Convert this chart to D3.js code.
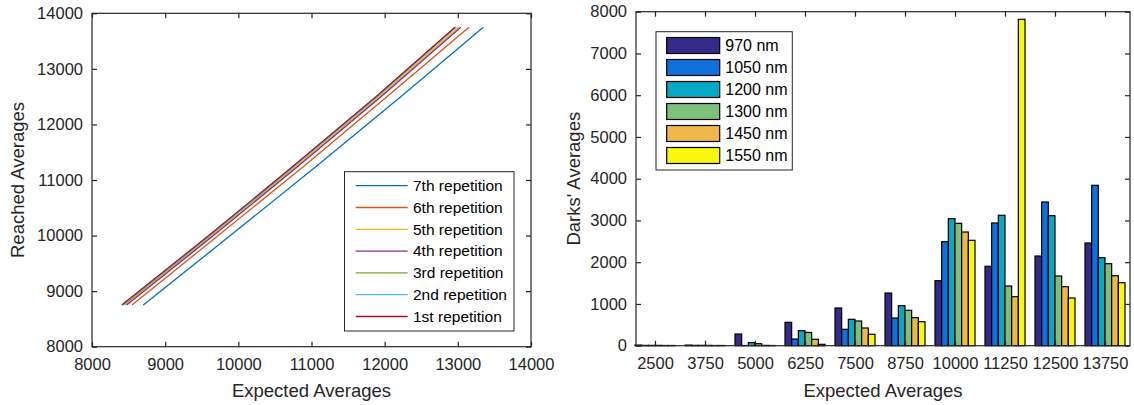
<!DOCTYPE html>
<html>
<head>
<meta charset="utf-8">
<script src="https://cdn.jsdelivr.net/npm/d3@7"></script>
<style>
  body { margin: 0; background: #fff; }
  svg { display: block; font-family: "Liberation Sans", Arial, Helvetica, sans-serif; }
</style>
</head>
<body>
<svg id="chart" width="1134" height="405"></svg>
<script>
// ---- left plot data: reached averages vs expected averages, 7 repetitions
var reachedLevels = [8750, 10000, 11250, 12500, 13750];
var repNames = ["7th repetition", "6th repetition", "5th repetition", "4th repetition",
                "3rd repetition", "2nd repetition", "1st repetition"];
var rep7 = [8701, 9890, 11071, 12220, 13348];
var rep6 = [8547, 9725, 10900, 12030, 13152];
var rep5 = [8450, 9640, 10800, 11930, 13010];
var rep4 = [8474, 9660, 10820, 11950, 13040];
var rep3 = [8428, 9615, 10770, 11900, 12975];
var rep2 = [8415, 9605, 10760, 11890, 12965];
var rep1 = [8406, 9595, 10751, 11880, 12961];
var repColors = ["#0072BD", "#D95319", "#EDB120", "#7E2F8E", "#77AC30", "#4DBEEE", "#A2142F"];
var leftTicks = [8000, 9000, 10000, 11000, 12000, 13000, 14000];

// ---- right plot data: darks' averages per wavelength
var categories = ["2500", "3750", "5000", "6250", "7500", "8750", "10000", "11250", "12500", "13750"];
var wavelengths = ["970 nm", "1050 nm", "1200 nm", "1300 nm", "1450 nm", "1550 nm"];
var d970  = [15, 15, 280, 560, 903, 1262, 1557, 1902, 2148, 2460];
var d1050 = [8, 8, 5, 160, 393, 663, 2491, 2939, 3442, 3842];
var d1200 = [8, 8, 75, 360, 632, 958, 3042, 3123, 3114, 2108];
var d1300 = [8, 8, 48, 318, 592, 848, 2931, 1430, 1669, 1964];
var d1450 = [5, 5, 8, 153, 424, 671, 2723, 1174, 1413, 1677];
var d1550 = [5, 5, 5, 33, 273, 575, 2524, 7818, 1142, 1509];
var barColors = ["#352A87", "#0F6FDB", "#07A8C3", "#7DBF7B", "#F0B74C", "#F8F80F"];
var rightTicks = [0, 1000, 2000, 3000, 4000, 5000, 6000, 7000, 8000];

var svg = d3.select("#chart");
var ink = "#262626";
var tickFont = "16.5px";

function frame(g, x0, x1, y0, y1) {
    g.append("rect")
        .attr("x", x0).attr("y", y0)
        .attr("width", x1 - x0).attr("height", y1 - y0)
        .attr("fill", "none").attr("stroke", ink).attr("stroke-width", 1.2);
}

// ================= LEFT PLOT =================
var L = {x0: 92, x1: 531, y0: 13.3, y1: 346.7};
var lx = d3.scaleLinear().domain([8000, 14000]).range([L.x0, L.x1]);
var ly = d3.scaleLinear().domain([8000, 14000]).range([L.y1, L.y0]);
var left = svg.append("g");

var reps = [rep7, rep6, rep5, rep4, rep3, rep2, rep1];
var line = d3.line().x(function(d){ return lx(d[0]); }).y(function(d){ return ly(d[1]); });
// draw 7th first, 1st last (on top)
reps.forEach(function(r, i){
    left.append("path")
        .datum(r.map(function(v, k){ return [v, reachedLevels[k]]; }))
        .attr("d", line)
        .attr("fill", "none")
        .attr("stroke", repColors[i])
        .attr("stroke-width", 1.3);
});

frame(left, L.x0, L.x1, L.y0, L.y1);

left.append("g").attr("transform", "translate(0," + L.y1 + ")")
    .call(d3.axisBottom(lx).tickValues(leftTicks).tickSize(-5).tickPadding(12).tickFormat(d3.format("d")));
left.append("g").attr("transform", "translate(0," + L.y0 + ")")
    .call(d3.axisTop(lx).tickValues(leftTicks).tickSize(-5).tickFormat(""));
left.append("g").attr("transform", "translate(" + L.x0 + ",0)")
    .call(d3.axisLeft(ly).tickValues(leftTicks).tickSize(-5).tickPadding(9).tickFormat(d3.format("d")));
left.append("g").attr("transform", "translate(" + L.x1 + ",0)")
    .call(d3.axisRight(ly).tickValues(leftTicks).tickSize(-5).tickFormat(""));

left.append("text")
    .attr("x", (L.x0 + L.x1) / 2).attr("y", 397)
    .attr("text-anchor", "middle").attr("font-size", "18.5px").attr("fill", ink)
    .text("Expected Averages");
left.append("text")
    .attr("transform", "translate(24," + ((L.y0 + L.y1) / 2) + ") rotate(-90)")
    .attr("text-anchor", "middle").attr("font-size", "18.5px").attr("fill", ink)
    .text("Reached Averages");

// legend
var lg = left.append("g");
lg.append("rect").attr("x", 344.5).attr("y", 171.7).attr("width", 169.5).attr("height", 159.3)
    .attr("fill", "#fff").attr("stroke", ink).attr("stroke-width", 1);
repNames.forEach(function(n, i){
    var yy = 185.7 + i * 21.8;
    lg.append("line").attr("x1", 355.7).attr("x2", 407.7).attr("y1", yy).attr("y2", yy)
        .attr("stroke", repColors[i]).attr("stroke-width", 1.3);
    lg.append("text").attr("x", 413).attr("y", yy + 5.3)
        .attr("font-size", "15.5px").attr("fill", "#000").text(n);
});

// ================= RIGHT PLOT =================
var R = {x0: 636, x1: 1130, y0: 11.7, y1: 345.7};
var rx = d3.scaleLinear().domain([0.62, 10.5]).range([R.x0, R.x1]);
var ry = d3.scaleLinear().domain([0, 8000]).range([R.y1, R.y0]);
var right = svg.append("g");

var series = [d970, d1050, d1200, d1300, d1450, d1550];
var groupW = rx(1.8) - rx(1);
var barW = groupW / series.length;

series.forEach(function(s, j){
    right.append("g").selectAll("rect")
        .data(s)
        .join("rect")
        .attr("x", function(d, i){ return rx(i + 1) - groupW / 2 + j * barW; })
        .attr("y", function(d){ return ry(d); })
        .attr("width", barW)
        .attr("height", function(d){ return ry(0) - ry(d); })
        .attr("fill", barColors[j])
        .attr("stroke", "#000")
        .attr("stroke-width", 1.2);
});

frame(right, R.x0, R.x1, R.y0, R.y1);

var catIdx = d3.range(1, categories.length + 1);
right.append("g").attr("transform", "translate(0," + R.y1 + ")")
    .call(d3.axisBottom(rx).tickValues(catIdx).tickSize(-5).tickPadding(12)
        .tickFormat(function(d){ return categories[d - 1]; }));
right.append("g").attr("transform", "translate(0," + R.y0 + ")")
    .call(d3.axisTop(rx).tickValues(catIdx).tickSize(-5).tickFormat(""));
right.append("g").attr("transform", "translate(" + R.x0 + ",0)")
    .call(d3.axisLeft(ry).tickValues(rightTicks).tickSize(-5).tickPadding(9).tickFormat(d3.format("d")));
right.append("g").attr("transform", "translate(" + R.x1 + ",0)")
    .call(d3.axisRight(ry).tickValues(rightTicks).tickSize(-5).tickFormat(""));

right.append("text")
    .attr("x", (R.x0 + R.x1) / 2).attr("y", 397)
    .attr("text-anchor", "middle").attr("font-size", "18.5px").attr("fill", ink)
    .text("Expected Averages");
right.append("text")
    .attr("transform", "translate(580," + ((R.y0 + R.y1) / 2) + ") rotate(-90)")
    .attr("text-anchor", "middle").attr("font-size", "18.5px").attr("fill", ink)
    .text("Darks' Averages");

var rg = right.append("g");
rg.append("rect").attr("x", 656).attr("y", 31.7).attr("width", 136.3).attr("height", 138.3)
    .attr("fill", "#fff").attr("stroke", ink).attr("stroke-width", 1);
wavelengths.forEach(function(n, i){
    var yy = 37.5 + i * 22;
    rg.append("rect").attr("x", 666.7).attr("y", yy).attr("width", 53).attr("height", 16)
        .attr("fill", barColors[i]).attr("stroke", "#000").attr("stroke-width", 1.2);
    rg.append("text").attr("x", 725.3).attr("y", yy + 13.7)
        .attr("font-size", "16px").attr("fill", "#000").text(n);
});

// common axis styling
svg.selectAll(".domain").remove();
svg.selectAll(".tick line").attr("stroke", ink).attr("stroke-width", 1.2);
svg.selectAll(".tick text").attr("fill", ink).attr("font-size", tickFont)
    .attr("font-family", "\"Liberation Sans\", Arial, Helvetica, sans-serif");
</script>
</body>
</html>
